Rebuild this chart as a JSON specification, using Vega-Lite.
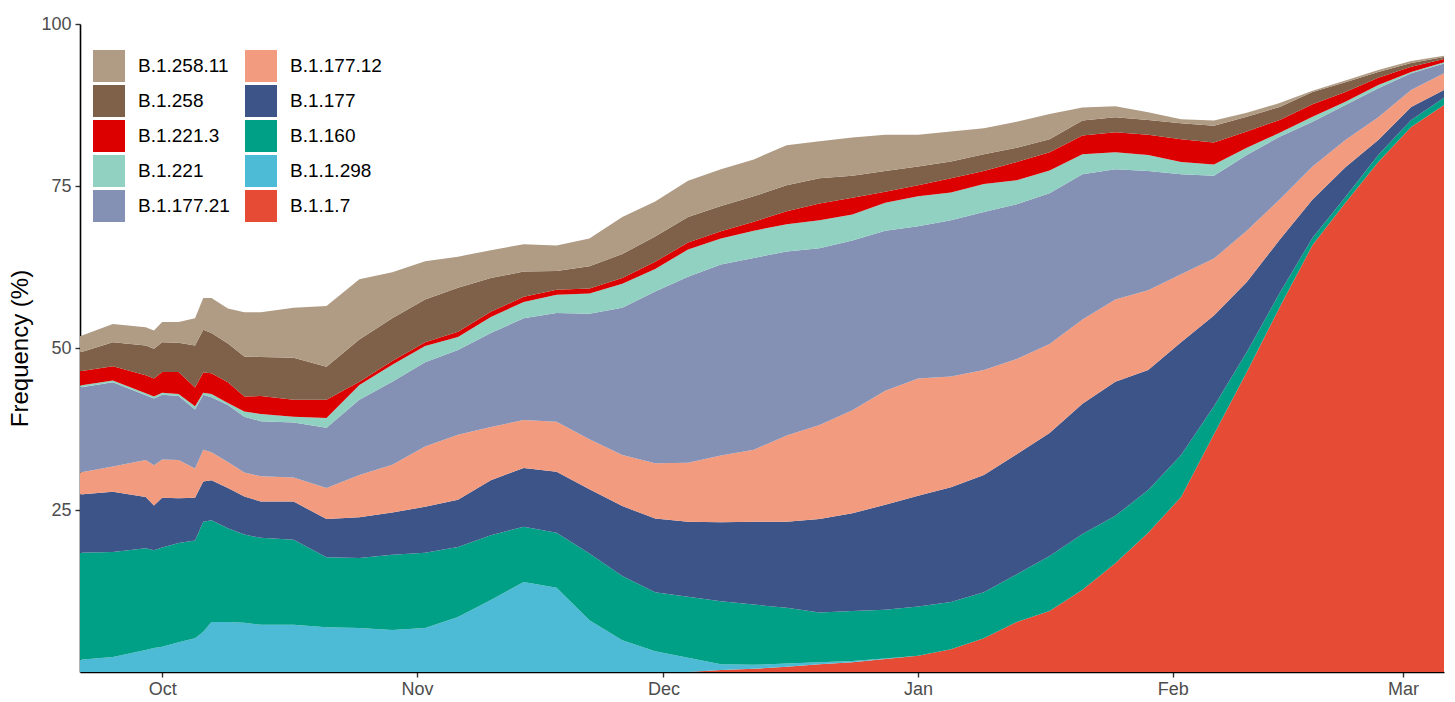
{
"$schema": "https://vega.github.io/schema/vega-lite/v6.json",
"width": 1364,
"height": 648,
"autosize": {"type": "none"},
"padding": {"left": 80, "top": 24, "right": 11, "bottom": 30},
"background": "white",
"config": {
  "view": {"stroke": null},
  "font": "Liberation Sans",
  "axis": {"grid": false, "domainColor": "#000000", "domainWidth": 1.6, "tickColor": "#333333", "tickWidth": 1.4, "tickSize": 5, "labelColor": "#4D4D4D", "labelFontSize": 18, "labelFont": "Liberation Sans", "titleFont": "Liberation Sans", "titleFontWeight": "normal", "titleColor": "#000000", "titleFontSize": 24}
},
"datasets": {
"freqs": [
{"date":"2020-09-21","lineage":"B.1.1.7","freq":0},{"date":"2020-09-21","lineage":"B.1.1.298","freq":1.9},{"date":"2020-09-21","lineage":"B.1.160","freq":16.5},{"date":"2020-09-21","lineage":"B.1.177","freq":9.0},{"date":"2020-09-21","lineage":"B.1.177.12","freq":3.4},{"date":"2020-09-21","lineage":"B.1.177.21","freq":13.1},{"date":"2020-09-21","lineage":"B.1.221","freq":0.3},{"date":"2020-09-21","lineage":"B.1.221.3","freq":2.2},{"date":"2020-09-21","lineage":"B.1.258","freq":2.9},{"date":"2020-09-21","lineage":"B.1.258.11","freq":2.5},
{"date":"2020-09-25","lineage":"B.1.1.7","freq":0},{"date":"2020-09-25","lineage":"B.1.1.298","freq":2.3},{"date":"2020-09-25","lineage":"B.1.160","freq":16.2},{"date":"2020-09-25","lineage":"B.1.177","freq":9.3},{"date":"2020-09-25","lineage":"B.1.177.12","freq":3.9},{"date":"2020-09-25","lineage":"B.1.177.21","freq":13.0},{"date":"2020-09-25","lineage":"B.1.221","freq":0.3},{"date":"2020-09-25","lineage":"B.1.221.3","freq":2.2},{"date":"2020-09-25","lineage":"B.1.258","freq":3.7},{"date":"2020-09-25","lineage":"B.1.258.11","freq":2.8},
{"date":"2020-09-29","lineage":"B.1.1.7","freq":0},{"date":"2020-09-29","lineage":"B.1.1.298","freq":3.4},{"date":"2020-09-29","lineage":"B.1.160","freq":15.7},{"date":"2020-09-29","lineage":"B.1.177","freq":7.9},{"date":"2020-09-29","lineage":"B.1.177.12","freq":5.7},{"date":"2020-09-29","lineage":"B.1.177.21","freq":10.0},{"date":"2020-09-29","lineage":"B.1.221","freq":0.3},{"date":"2020-09-29","lineage":"B.1.221.3","freq":2.8},{"date":"2020-09-29","lineage":"B.1.258","freq":4.6},{"date":"2020-09-29","lineage":"B.1.258.11","freq":2.8},
{"date":"2020-09-30","lineage":"B.1.1.7","freq":0},{"date":"2020-09-30","lineage":"B.1.1.298","freq":3.7},{"date":"2020-09-30","lineage":"B.1.160","freq":15.1},{"date":"2020-09-30","lineage":"B.1.177","freq":6.9},{"date":"2020-09-30","lineage":"B.1.177.12","freq":6.2},{"date":"2020-09-30","lineage":"B.1.177.21","freq":10.3},{"date":"2020-09-30","lineage":"B.1.221","freq":0.3},{"date":"2020-09-30","lineage":"B.1.221.3","freq":2.8},{"date":"2020-09-30","lineage":"B.1.258","freq":4.6},{"date":"2020-09-30","lineage":"B.1.258.11","freq":2.8},
{"date":"2020-10-01","lineage":"B.1.1.7","freq":0},{"date":"2020-10-01","lineage":"B.1.1.298","freq":3.9},{"date":"2020-10-01","lineage":"B.1.160","freq":15.3},{"date":"2020-10-01","lineage":"B.1.177","freq":7.7},{"date":"2020-10-01","lineage":"B.1.177.12","freq":5.9},{"date":"2020-10-01","lineage":"B.1.177.21","freq":10.0},{"date":"2020-10-01","lineage":"B.1.221","freq":0.3},{"date":"2020-10-01","lineage":"B.1.221.3","freq":3.2},{"date":"2020-10-01","lineage":"B.1.258","freq":4.6},{"date":"2020-10-01","lineage":"B.1.258.11","freq":3.1},
{"date":"2020-10-03","lineage":"B.1.1.7","freq":0},{"date":"2020-10-03","lineage":"B.1.1.298","freq":4.6},{"date":"2020-10-03","lineage":"B.1.160","freq":15.3},{"date":"2020-10-03","lineage":"B.1.177","freq":6.9},{"date":"2020-10-03","lineage":"B.1.177.12","freq":5.9},{"date":"2020-10-03","lineage":"B.1.177.21","freq":9.9},{"date":"2020-10-03","lineage":"B.1.221","freq":0.3},{"date":"2020-10-03","lineage":"B.1.221.3","freq":3.4},{"date":"2020-10-03","lineage":"B.1.258","freq":4.5},{"date":"2020-10-03","lineage":"B.1.258.11","freq":3.2},
{"date":"2020-10-05","lineage":"B.1.1.7","freq":0},{"date":"2020-10-05","lineage":"B.1.1.298","freq":5.2},{"date":"2020-10-05","lineage":"B.1.160","freq":15.1},{"date":"2020-10-05","lineage":"B.1.177","freq":6.6},{"date":"2020-10-05","lineage":"B.1.177.12","freq":4.5},{"date":"2020-10-05","lineage":"B.1.177.21","freq":9.1},{"date":"2020-10-05","lineage":"B.1.221","freq":0.5},{"date":"2020-10-05","lineage":"B.1.221.3","freq":2.9},{"date":"2020-10-05","lineage":"B.1.258","freq":6.5},{"date":"2020-10-05","lineage":"B.1.258.11","freq":4.2},
{"date":"2020-10-06","lineage":"B.1.1.7","freq":0},{"date":"2020-10-06","lineage":"B.1.1.298","freq":6.2},{"date":"2020-10-06","lineage":"B.1.160","freq":17.0},{"date":"2020-10-06","lineage":"B.1.177","freq":6.2},{"date":"2020-10-06","lineage":"B.1.177.12","freq":4.9},{"date":"2020-10-06","lineage":"B.1.177.21","freq":8.5},{"date":"2020-10-06","lineage":"B.1.221","freq":0.3},{"date":"2020-10-06","lineage":"B.1.221.3","freq":3.1},{"date":"2020-10-06","lineage":"B.1.258","freq":6.6},{"date":"2020-10-06","lineage":"B.1.258.11","freq":4.9},
{"date":"2020-10-07","lineage":"B.1.1.7","freq":0},{"date":"2020-10-07","lineage":"B.1.1.298","freq":7.7},{"date":"2020-10-07","lineage":"B.1.160","freq":15.7},{"date":"2020-10-07","lineage":"B.1.177","freq":6.2},{"date":"2020-10-07","lineage":"B.1.177.12","freq":4.3},{"date":"2020-10-07","lineage":"B.1.177.21","freq":8.5},{"date":"2020-10-07","lineage":"B.1.221","freq":0.5},{"date":"2020-10-07","lineage":"B.1.221.3","freq":3.2},{"date":"2020-10-07","lineage":"B.1.258","freq":6.2},{"date":"2020-10-07","lineage":"B.1.258.11","freq":5.4},
{"date":"2020-10-09","lineage":"B.1.1.7","freq":0},{"date":"2020-10-09","lineage":"B.1.1.298","freq":7.7},{"date":"2020-10-09","lineage":"B.1.160","freq":14.5},{"date":"2020-10-09","lineage":"B.1.177","freq":6.2},{"date":"2020-10-09","lineage":"B.1.177.12","freq":4.0},{"date":"2020-10-09","lineage":"B.1.177.21","freq":8.8},{"date":"2020-10-09","lineage":"B.1.221","freq":0.3},{"date":"2020-10-09","lineage":"B.1.221.3","freq":3.2},{"date":"2020-10-09","lineage":"B.1.258","freq":6.0},{"date":"2020-10-09","lineage":"B.1.258.11","freq":5.4},
{"date":"2020-10-11","lineage":"B.1.1.7","freq":0},{"date":"2020-10-11","lineage":"B.1.1.298","freq":7.6},{"date":"2020-10-11","lineage":"B.1.160","freq":13.6},{"date":"2020-10-11","lineage":"B.1.177","freq":5.9},{"date":"2020-10-11","lineage":"B.1.177.12","freq":3.7},{"date":"2020-10-11","lineage":"B.1.177.21","freq":8.6},{"date":"2020-10-11","lineage":"B.1.221","freq":0.8},{"date":"2020-10-11","lineage":"B.1.221.3","freq":2.3},{"date":"2020-10-11","lineage":"B.1.258","freq":6.2},{"date":"2020-10-11","lineage":"B.1.258.11","freq":6.8},
{"date":"2020-10-13","lineage":"B.1.1.7","freq":0},{"date":"2020-10-13","lineage":"B.1.1.298","freq":7.3},{"date":"2020-10-13","lineage":"B.1.160","freq":13.4},{"date":"2020-10-13","lineage":"B.1.177","freq":5.6},{"date":"2020-10-13","lineage":"B.1.177.12","freq":3.9},{"date":"2020-10-13","lineage":"B.1.177.21","freq":8.5},{"date":"2020-10-13","lineage":"B.1.221","freq":1.1},{"date":"2020-10-13","lineage":"B.1.221.3","freq":2.8},{"date":"2020-10-13","lineage":"B.1.258","freq":6.0},{"date":"2020-10-13","lineage":"B.1.258.11","freq":6.9},
{"date":"2020-10-17","lineage":"B.1.1.7","freq":0},{"date":"2020-10-17","lineage":"B.1.1.298","freq":7.3},{"date":"2020-10-17","lineage":"B.1.160","freq":13.1},{"date":"2020-10-17","lineage":"B.1.177","freq":5.9},{"date":"2020-10-17","lineage":"B.1.177.12","freq":3.7},{"date":"2020-10-17","lineage":"B.1.177.21","freq":8.5},{"date":"2020-10-17","lineage":"B.1.221","freq":0.9},{"date":"2020-10-17","lineage":"B.1.221.3","freq":2.6},{"date":"2020-10-17","lineage":"B.1.258","freq":6.5},{"date":"2020-10-17","lineage":"B.1.258.11","freq":7.7},
{"date":"2020-10-21","lineage":"B.1.1.7","freq":0},{"date":"2020-10-21","lineage":"B.1.1.298","freq":6.9},{"date":"2020-10-21","lineage":"B.1.160","freq":10.8},{"date":"2020-10-21","lineage":"B.1.177","freq":5.9},{"date":"2020-10-21","lineage":"B.1.177.12","freq":4.8},{"date":"2020-10-21","lineage":"B.1.177.21","freq":9.3},{"date":"2020-10-21","lineage":"B.1.221","freq":1.5},{"date":"2020-10-21","lineage":"B.1.221.3","freq":2.8},{"date":"2020-10-21","lineage":"B.1.258","freq":5.1},{"date":"2020-10-21","lineage":"B.1.258.11","freq":9.4},
{"date":"2020-10-25","lineage":"B.1.1.7","freq":0},{"date":"2020-10-25","lineage":"B.1.1.298","freq":6.8},{"date":"2020-10-25","lineage":"B.1.160","freq":10.8},{"date":"2020-10-25","lineage":"B.1.177","freq":6.3},{"date":"2020-10-25","lineage":"B.1.177.12","freq":6.5},{"date":"2020-10-25","lineage":"B.1.177.21","freq":11.6},{"date":"2020-10-25","lineage":"B.1.221","freq":2.3},{"date":"2020-10-25","lineage":"B.1.221.3","freq":0.5},{"date":"2020-10-25","lineage":"B.1.258","freq":6.5},{"date":"2020-10-25","lineage":"B.1.258.11","freq":9.3},
{"date":"2020-10-29","lineage":"B.1.1.7","freq":0},{"date":"2020-10-29","lineage":"B.1.1.298","freq":6.5},{"date":"2020-10-29","lineage":"B.1.160","freq":11.6},{"date":"2020-10-29","lineage":"B.1.177","freq":6.5},{"date":"2020-10-29","lineage":"B.1.177.12","freq":7.4},{"date":"2020-10-29","lineage":"B.1.177.21","freq":12.8},{"date":"2020-10-29","lineage":"B.1.221","freq":2.6},{"date":"2020-10-29","lineage":"B.1.221.3","freq":0.6},{"date":"2020-10-29","lineage":"B.1.258","freq":6.6},{"date":"2020-10-29","lineage":"B.1.258.11","freq":7.1},
{"date":"2020-11-02","lineage":"B.1.1.7","freq":0},{"date":"2020-11-02","lineage":"B.1.1.298","freq":6.8},{"date":"2020-11-02","lineage":"B.1.160","freq":11.6},{"date":"2020-11-02","lineage":"B.1.177","freq":7.1},{"date":"2020-11-02","lineage":"B.1.177.12","freq":9.3},{"date":"2020-11-02","lineage":"B.1.177.21","freq":13.0},{"date":"2020-11-02","lineage":"B.1.221","freq":2.5},{"date":"2020-11-02","lineage":"B.1.221.3","freq":0.6},{"date":"2020-11-02","lineage":"B.1.258","freq":6.6},{"date":"2020-11-02","lineage":"B.1.258.11","freq":5.9},
{"date":"2020-11-06","lineage":"B.1.1.7","freq":0},{"date":"2020-11-06","lineage":"B.1.1.298","freq":8.5},{"date":"2020-11-06","lineage":"B.1.160","freq":10.8},{"date":"2020-11-06","lineage":"B.1.177","freq":7.3},{"date":"2020-11-06","lineage":"B.1.177.12","freq":10.0},{"date":"2020-11-06","lineage":"B.1.177.21","freq":13.1},{"date":"2020-11-06","lineage":"B.1.221","freq":2.0},{"date":"2020-11-06","lineage":"B.1.221.3","freq":0.8},{"date":"2020-11-06","lineage":"B.1.258","freq":6.8},{"date":"2020-11-06","lineage":"B.1.258.11","freq":4.8},
{"date":"2020-11-10","lineage":"B.1.1.7","freq":0},{"date":"2020-11-10","lineage":"B.1.1.298","freq":11.1},{"date":"2020-11-10","lineage":"B.1.160","freq":10.0},{"date":"2020-11-10","lineage":"B.1.177","freq":8.5},{"date":"2020-11-10","lineage":"B.1.177.12","freq":8.2},{"date":"2020-11-10","lineage":"B.1.177.21","freq":14.5},{"date":"2020-11-10","lineage":"B.1.221","freq":2.5},{"date":"2020-11-10","lineage":"B.1.221.3","freq":0.8},{"date":"2020-11-10","lineage":"B.1.258","freq":5.2},{"date":"2020-11-10","lineage":"B.1.258.11","freq":4.3},
{"date":"2020-11-14","lineage":"B.1.1.7","freq":0},{"date":"2020-11-14","lineage":"B.1.1.298","freq":13.9},{"date":"2020-11-14","lineage":"B.1.160","freq":8.5},{"date":"2020-11-14","lineage":"B.1.177","freq":9.1},{"date":"2020-11-14","lineage":"B.1.177.12","freq":7.4},{"date":"2020-11-14","lineage":"B.1.177.21","freq":15.7},{"date":"2020-11-14","lineage":"B.1.221","freq":2.5},{"date":"2020-11-14","lineage":"B.1.221.3","freq":0.8},{"date":"2020-11-14","lineage":"B.1.258","freq":3.9},{"date":"2020-11-14","lineage":"B.1.258.11","freq":4.2},
{"date":"2020-11-18","lineage":"B.1.1.7","freq":0},{"date":"2020-11-18","lineage":"B.1.1.298","freq":13.0},{"date":"2020-11-18","lineage":"B.1.160","freq":8.5},{"date":"2020-11-18","lineage":"B.1.177","freq":9.4},{"date":"2020-11-18","lineage":"B.1.177.12","freq":7.7},{"date":"2020-11-18","lineage":"B.1.177.21","freq":16.8},{"date":"2020-11-18","lineage":"B.1.221","freq":2.8},{"date":"2020-11-18","lineage":"B.1.221.3","freq":0.8},{"date":"2020-11-18","lineage":"B.1.258","freq":2.9},{"date":"2020-11-18","lineage":"B.1.258.11","freq":3.9},
{"date":"2020-11-22","lineage":"B.1.1.7","freq":0},{"date":"2020-11-22","lineage":"B.1.1.298","freq":8.0},{"date":"2020-11-22","lineage":"B.1.160","freq":10.3},{"date":"2020-11-22","lineage":"B.1.177","freq":9.9},{"date":"2020-11-22","lineage":"B.1.177.12","freq":7.7},{"date":"2020-11-22","lineage":"B.1.177.21","freq":19.4},{"date":"2020-11-22","lineage":"B.1.221","freq":3.1},{"date":"2020-11-22","lineage":"B.1.221.3","freq":0.8},{"date":"2020-11-22","lineage":"B.1.258","freq":3.4},{"date":"2020-11-22","lineage":"B.1.258.11","freq":4.3},
{"date":"2020-11-26","lineage":"B.1.1.7","freq":0},{"date":"2020-11-26","lineage":"B.1.1.298","freq":4.9},{"date":"2020-11-26","lineage":"B.1.160","freq":9.9},{"date":"2020-11-26","lineage":"B.1.177","freq":10.8},{"date":"2020-11-26","lineage":"B.1.177.12","freq":7.9},{"date":"2020-11-26","lineage":"B.1.177.21","freq":22.7},{"date":"2020-11-26","lineage":"B.1.221","freq":3.7},{"date":"2020-11-26","lineage":"B.1.221.3","freq":0.9},{"date":"2020-11-26","lineage":"B.1.258","freq":3.7},{"date":"2020-11-26","lineage":"B.1.258.11","freq":5.7},
{"date":"2020-11-30","lineage":"B.1.1.7","freq":0},{"date":"2020-11-30","lineage":"B.1.1.298","freq":3.2},{"date":"2020-11-30","lineage":"B.1.160","freq":9.1},{"date":"2020-11-30","lineage":"B.1.177","freq":11.4},{"date":"2020-11-30","lineage":"B.1.177.12","freq":8.5},{"date":"2020-11-30","lineage":"B.1.177.21","freq":26.5},{"date":"2020-11-30","lineage":"B.1.221","freq":3.5},{"date":"2020-11-30","lineage":"B.1.221.3","freq":1.1},{"date":"2020-11-30","lineage":"B.1.258","freq":3.9},{"date":"2020-11-30","lineage":"B.1.258.11","freq":5.4},
{"date":"2020-12-04","lineage":"B.1.1.7","freq":0},{"date":"2020-12-04","lineage":"B.1.1.298","freq":2.2},{"date":"2020-12-04","lineage":"B.1.160","freq":9.4},{"date":"2020-12-04","lineage":"B.1.177","freq":11.6},{"date":"2020-12-04","lineage":"B.1.177.12","freq":9.1},{"date":"2020-12-04","lineage":"B.1.177.21","freq":28.7},{"date":"2020-12-04","lineage":"B.1.221","freq":4.2},{"date":"2020-12-04","lineage":"B.1.221.3","freq":1.1},{"date":"2020-12-04","lineage":"B.1.258","freq":3.9},{"date":"2020-12-04","lineage":"B.1.258.11","freq":5.6},
{"date":"2020-12-08","lineage":"B.1.1.7","freq":0.3},{"date":"2020-12-08","lineage":"B.1.1.298","freq":0.9},{"date":"2020-12-08","lineage":"B.1.160","freq":9.7},{"date":"2020-12-08","lineage":"B.1.177","freq":12.2},{"date":"2020-12-08","lineage":"B.1.177.12","freq":10.3},{"date":"2020-12-08","lineage":"B.1.177.21","freq":29.5},{"date":"2020-12-08","lineage":"B.1.221","freq":4.0},{"date":"2020-12-08","lineage":"B.1.221.3","freq":1.1},{"date":"2020-12-08","lineage":"B.1.258","freq":3.9},{"date":"2020-12-08","lineage":"B.1.258.11","freq":5.7},
{"date":"2020-12-12","lineage":"B.1.1.7","freq":0.5},{"date":"2020-12-12","lineage":"B.1.1.298","freq":0.6},{"date":"2020-12-12","lineage":"B.1.160","freq":9.3},{"date":"2020-12-12","lineage":"B.1.177","freq":12.8},{"date":"2020-12-12","lineage":"B.1.177.12","freq":11.1},{"date":"2020-12-12","lineage":"B.1.177.21","freq":29.6},{"date":"2020-12-12","lineage":"B.1.221","freq":4.2},{"date":"2020-12-12","lineage":"B.1.221.3","freq":1.4},{"date":"2020-12-12","lineage":"B.1.258","freq":3.9},{"date":"2020-12-12","lineage":"B.1.258.11","freq":5.7},
{"date":"2020-12-16","lineage":"B.1.1.7","freq":0.8},{"date":"2020-12-16","lineage":"B.1.1.298","freq":0.5},{"date":"2020-12-16","lineage":"B.1.160","freq":8.6},{"date":"2020-12-16","lineage":"B.1.177","freq":13.3},{"date":"2020-12-16","lineage":"B.1.177.12","freq":13.3},{"date":"2020-12-16","lineage":"B.1.177.21","freq":28.4},{"date":"2020-12-16","lineage":"B.1.221","freq":4.2},{"date":"2020-12-16","lineage":"B.1.221.3","freq":2.0},{"date":"2020-12-16","lineage":"B.1.258","freq":4.0},{"date":"2020-12-16","lineage":"B.1.258.11","freq":6.2},
{"date":"2020-12-20","lineage":"B.1.1.7","freq":1.2},{"date":"2020-12-20","lineage":"B.1.1.298","freq":0.3},{"date":"2020-12-20","lineage":"B.1.160","freq":7.7},{"date":"2020-12-20","lineage":"B.1.177","freq":14.4},{"date":"2020-12-20","lineage":"B.1.177.12","freq":14.5},{"date":"2020-12-20","lineage":"B.1.177.21","freq":27.3},{"date":"2020-12-20","lineage":"B.1.221","freq":4.3},{"date":"2020-12-20","lineage":"B.1.221.3","freq":2.6},{"date":"2020-12-20","lineage":"B.1.258","freq":3.9},{"date":"2020-12-20","lineage":"B.1.258.11","freq":5.7},
{"date":"2020-12-24","lineage":"B.1.1.7","freq":1.5},{"date":"2020-12-24","lineage":"B.1.1.298","freq":0.2},{"date":"2020-12-24","lineage":"B.1.160","freq":7.7},{"date":"2020-12-24","lineage":"B.1.177","freq":15.1},{"date":"2020-12-24","lineage":"B.1.177.12","freq":15.9},{"date":"2020-12-24","lineage":"B.1.177.21","freq":26.2},{"date":"2020-12-24","lineage":"B.1.221","freq":4.0},{"date":"2020-12-24","lineage":"B.1.221.3","freq":2.6},{"date":"2020-12-24","lineage":"B.1.258","freq":3.4},{"date":"2020-12-24","lineage":"B.1.258.11","freq":5.9},
{"date":"2020-12-28","lineage":"B.1.1.7","freq":2.0},{"date":"2020-12-28","lineage":"B.1.1.298","freq":0.1},{"date":"2020-12-28","lineage":"B.1.160","freq":7.5},{"date":"2020-12-28","lineage":"B.1.177","freq":16.2},{"date":"2020-12-28","lineage":"B.1.177.12","freq":17.6},{"date":"2020-12-28","lineage":"B.1.177.21","freq":24.7},{"date":"2020-12-28","lineage":"B.1.221","freq":4.3},{"date":"2020-12-28","lineage":"B.1.221.3","freq":1.7},{"date":"2020-12-28","lineage":"B.1.258","freq":3.2},{"date":"2020-12-28","lineage":"B.1.258.11","freq":5.6},
{"date":"2021-01-01","lineage":"B.1.1.7","freq":2.5},{"date":"2021-01-01","lineage":"B.1.1.298","freq":0},{"date":"2021-01-01","lineage":"B.1.160","freq":7.6},{"date":"2021-01-01","lineage":"B.1.177","freq":17.1},{"date":"2021-01-01","lineage":"B.1.177.12","freq":18.1},{"date":"2021-01-01","lineage":"B.1.177.21","freq":23.5},{"date":"2021-01-01","lineage":"B.1.221","freq":4.6},{"date":"2021-01-01","lineage":"B.1.221.3","freq":1.7},{"date":"2021-01-01","lineage":"B.1.258","freq":2.9},{"date":"2021-01-01","lineage":"B.1.258.11","freq":4.9},
{"date":"2021-01-05","lineage":"B.1.1.7","freq":3.5},{"date":"2021-01-05","lineage":"B.1.1.298","freq":0},{"date":"2021-01-05","lineage":"B.1.160","freq":7.3},{"date":"2021-01-05","lineage":"B.1.177","freq":17.7},{"date":"2021-01-05","lineage":"B.1.177.12","freq":17.1},{"date":"2021-01-05","lineage":"B.1.177.21","freq":24.1},{"date":"2021-01-05","lineage":"B.1.221","freq":4.3},{"date":"2021-01-05","lineage":"B.1.221.3","freq":2.2},{"date":"2021-01-05","lineage":"B.1.258","freq":2.6},{"date":"2021-01-05","lineage":"B.1.258.11","freq":4.6},
{"date":"2021-01-09","lineage":"B.1.1.7","freq":5.2},{"date":"2021-01-09","lineage":"B.1.1.298","freq":0},{"date":"2021-01-09","lineage":"B.1.160","freq":7.1},{"date":"2021-01-09","lineage":"B.1.177","freq":18.1},{"date":"2021-01-09","lineage":"B.1.177.12","freq":16.2},{"date":"2021-01-09","lineage":"B.1.177.21","freq":24.4},{"date":"2021-01-09","lineage":"B.1.221","freq":4.3},{"date":"2021-01-09","lineage":"B.1.221.3","freq":2.0},{"date":"2021-01-09","lineage":"B.1.258","freq":2.6},{"date":"2021-01-09","lineage":"B.1.258.11","freq":4.0},
{"date":"2021-01-13","lineage":"B.1.1.7","freq":7.7},{"date":"2021-01-13","lineage":"B.1.1.298","freq":0},{"date":"2021-01-13","lineage":"B.1.160","freq":7.4},{"date":"2021-01-13","lineage":"B.1.177","freq":18.5},{"date":"2021-01-13","lineage":"B.1.177.12","freq":14.7},{"date":"2021-01-13","lineage":"B.1.177.21","freq":23.9},{"date":"2021-01-13","lineage":"B.1.221","freq":3.7},{"date":"2021-01-13","lineage":"B.1.221.3","freq":2.8},{"date":"2021-01-13","lineage":"B.1.258","freq":2.2},{"date":"2021-01-13","lineage":"B.1.258.11","freq":4.0},
{"date":"2021-01-17","lineage":"B.1.1.7","freq":9.4},{"date":"2021-01-17","lineage":"B.1.1.298","freq":0},{"date":"2021-01-17","lineage":"B.1.160","freq":8.5},{"date":"2021-01-17","lineage":"B.1.177","freq":19.0},{"date":"2021-01-17","lineage":"B.1.177.12","freq":13.7},{"date":"2021-01-17","lineage":"B.1.177.21","freq":23.3},{"date":"2021-01-17","lineage":"B.1.221","freq":3.5},{"date":"2021-01-17","lineage":"B.1.221.3","freq":2.8},{"date":"2021-01-17","lineage":"B.1.258","freq":2.0},{"date":"2021-01-17","lineage":"B.1.258.11","freq":3.9},
{"date":"2021-01-21","lineage":"B.1.1.7","freq":12.7},{"date":"2021-01-21","lineage":"B.1.1.298","freq":0},{"date":"2021-01-21","lineage":"B.1.160","freq":8.6},{"date":"2021-01-21","lineage":"B.1.177","freq":20.1},{"date":"2021-01-21","lineage":"B.1.177.12","freq":13.0},{"date":"2021-01-21","lineage":"B.1.177.21","freq":22.4},{"date":"2021-01-21","lineage":"B.1.221","freq":3.1},{"date":"2021-01-21","lineage":"B.1.221.3","freq":2.9},{"date":"2021-01-21","lineage":"B.1.258","freq":2.3},{"date":"2021-01-21","lineage":"B.1.258.11","freq":2.0},
{"date":"2021-01-25","lineage":"B.1.1.7","freq":16.8},{"date":"2021-01-25","lineage":"B.1.1.298","freq":0},{"date":"2021-01-25","lineage":"B.1.160","freq":7.3},{"date":"2021-01-25","lineage":"B.1.177","freq":20.7},{"date":"2021-01-25","lineage":"B.1.177.12","freq":12.7},{"date":"2021-01-25","lineage":"B.1.177.21","freq":20.1},{"date":"2021-01-25","lineage":"B.1.221","freq":2.6},{"date":"2021-01-25","lineage":"B.1.221.3","freq":3.1},{"date":"2021-01-25","lineage":"B.1.258","freq":2.3},{"date":"2021-01-25","lineage":"B.1.258.11","freq":1.7},
{"date":"2021-01-29","lineage":"B.1.1.7","freq":21.5},{"date":"2021-01-29","lineage":"B.1.1.298","freq":0},{"date":"2021-01-29","lineage":"B.1.160","freq":6.6},{"date":"2021-01-29","lineage":"B.1.177","freq":18.5},{"date":"2021-01-29","lineage":"B.1.177.12","freq":12.3},{"date":"2021-01-29","lineage":"B.1.177.21","freq":18.4},{"date":"2021-01-29","lineage":"B.1.221","freq":2.5},{"date":"2021-01-29","lineage":"B.1.221.3","freq":3.1},{"date":"2021-01-29","lineage":"B.1.258","freq":2.3},{"date":"2021-01-29","lineage":"B.1.258.11","freq":1.2},
{"date":"2021-02-02","lineage":"B.1.1.7","freq":27.0},{"date":"2021-02-02","lineage":"B.1.1.298","freq":0},{"date":"2021-02-02","lineage":"B.1.160","freq":6.5},{"date":"2021-02-02","lineage":"B.1.177","freq":17.4},{"date":"2021-02-02","lineage":"B.1.177.12","freq":10.5},{"date":"2021-02-02","lineage":"B.1.177.21","freq":15.4},{"date":"2021-02-02","lineage":"B.1.221","freq":1.9},{"date":"2021-02-02","lineage":"B.1.221.3","freq":3.5},{"date":"2021-02-02","lineage":"B.1.258","freq":2.5},{"date":"2021-02-02","lineage":"B.1.258.11","freq":0.6},
{"date":"2021-02-06","lineage":"B.1.1.7","freq":36.7},{"date":"2021-02-06","lineage":"B.1.1.298","freq":0},{"date":"2021-02-06","lineage":"B.1.160","freq":4.3},{"date":"2021-02-06","lineage":"B.1.177","freq":14.0},{"date":"2021-02-06","lineage":"B.1.177.12","freq":8.8},{"date":"2021-02-06","lineage":"B.1.177.21","freq":12.8},{"date":"2021-02-06","lineage":"B.1.221","freq":1.7},{"date":"2021-02-06","lineage":"B.1.221.3","freq":3.4},{"date":"2021-02-06","lineage":"B.1.258","freq":2.6},{"date":"2021-02-06","lineage":"B.1.258.11","freq":0.8},
{"date":"2021-02-10","lineage":"B.1.1.7","freq":46.3},{"date":"2021-02-10","lineage":"B.1.1.298","freq":0},{"date":"2021-02-10","lineage":"B.1.160","freq":3.1},{"date":"2021-02-10","lineage":"B.1.177","freq":10.8},{"date":"2021-02-10","lineage":"B.1.177.12","freq":7.9},{"date":"2021-02-10","lineage":"B.1.177.21","freq":11.7},{"date":"2021-02-10","lineage":"B.1.221","freq":1.1},{"date":"2021-02-10","lineage":"B.1.221.3","freq":2.5},{"date":"2021-02-10","lineage":"B.1.258","freq":2.3},{"date":"2021-02-10","lineage":"B.1.258.11","freq":0.6},
{"date":"2021-02-14","lineage":"B.1.1.7","freq":56.3},{"date":"2021-02-14","lineage":"B.1.1.298","freq":0},{"date":"2021-02-14","lineage":"B.1.160","freq":2.2},{"date":"2021-02-14","lineage":"B.1.177","freq":8.2},{"date":"2021-02-14","lineage":"B.1.177.12","freq":6.2},{"date":"2021-02-14","lineage":"B.1.177.21","freq":9.7},{"date":"2021-02-14","lineage":"B.1.221","freq":0.6},{"date":"2021-02-14","lineage":"B.1.221.3","freq":2.0},{"date":"2021-02-14","lineage":"B.1.258","freq":2.0},{"date":"2021-02-14","lineage":"B.1.258.11","freq":0.6},
{"date":"2021-02-18","lineage":"B.1.1.7","freq":65.9},{"date":"2021-02-18","lineage":"B.1.1.298","freq":0},{"date":"2021-02-18","lineage":"B.1.160","freq":1.1},{"date":"2021-02-18","lineage":"B.1.177","freq":5.9},{"date":"2021-02-18","lineage":"B.1.177.12","freq":5.1},{"date":"2021-02-18","lineage":"B.1.177.21","freq":6.9},{"date":"2021-02-18","lineage":"B.1.221","freq":0.8},{"date":"2021-02-18","lineage":"B.1.221.3","freq":1.9},{"date":"2021-02-18","lineage":"B.1.258","freq":1.9},{"date":"2021-02-18","lineage":"B.1.258.11","freq":0.2},
{"date":"2021-02-22","lineage":"B.1.1.7","freq":72.4},{"date":"2021-02-22","lineage":"B.1.1.298","freq":0},{"date":"2021-02-22","lineage":"B.1.160","freq":0.9},{"date":"2021-02-22","lineage":"B.1.177","freq":4.6},{"date":"2021-02-22","lineage":"B.1.177.12","freq":4.2},{"date":"2021-02-22","lineage":"B.1.177.21","freq":5.4},{"date":"2021-02-22","lineage":"B.1.221","freq":0.5},{"date":"2021-02-22","lineage":"B.1.221.3","freq":1.5},{"date":"2021-02-22","lineage":"B.1.258","freq":1.5},{"date":"2021-02-22","lineage":"B.1.258.11","freq":0.3},
{"date":"2021-02-26","lineage":"B.1.1.7","freq":78.7},{"date":"2021-02-26","lineage":"B.1.1.298","freq":0},{"date":"2021-02-26","lineage":"B.1.160","freq":1.1},{"date":"2021-02-26","lineage":"B.1.177","freq":2.3},{"date":"2021-02-26","lineage":"B.1.177.12","freq":3.5},{"date":"2021-02-26","lineage":"B.1.177.21","freq":4.5},{"date":"2021-02-26","lineage":"B.1.221","freq":0.5},{"date":"2021-02-26","lineage":"B.1.221.3","freq":1.1},{"date":"2021-02-26","lineage":"B.1.258","freq":0.9},{"date":"2021-02-26","lineage":"B.1.258.11","freq":0.3},
{"date":"2021-03-02","lineage":"B.1.1.7","freq":84.1},{"date":"2021-03-02","lineage":"B.1.1.298","freq":0},{"date":"2021-03-02","lineage":"B.1.160","freq":1.1},{"date":"2021-03-02","lineage":"B.1.177","freq":2.0},{"date":"2021-03-02","lineage":"B.1.177.12","freq":2.6},{"date":"2021-03-02","lineage":"B.1.177.21","freq":2.6},{"date":"2021-03-02","lineage":"B.1.221","freq":0.2},{"date":"2021-03-02","lineage":"B.1.221.3","freq":0.8},{"date":"2021-03-02","lineage":"B.1.258","freq":0.6},{"date":"2021-03-02","lineage":"B.1.258.11","freq":0.3},
{"date":"2021-03-06","lineage":"B.1.1.7","freq":87.5},{"date":"2021-03-06","lineage":"B.1.1.298","freq":0},{"date":"2021-03-06","lineage":"B.1.160","freq":1.1},{"date":"2021-03-06","lineage":"B.1.177","freq":1.2},{"date":"2021-03-06","lineage":"B.1.177.12","freq":2.6},{"date":"2021-03-06","lineage":"B.1.177.21","freq":1.5},{"date":"2021-03-06","lineage":"B.1.221","freq":0.2},{"date":"2021-03-06","lineage":"B.1.221.3","freq":0.5},{"date":"2021-03-06","lineage":"B.1.258","freq":0.3},{"date":"2021-03-06","lineage":"B.1.258.11","freq":0.2}
]
},
"data": {"name": "freqs"},
"transform": [
  {"calculate": "indexof(['B.1.1.7','B.1.1.298','B.1.160','B.1.177','B.1.177.12','B.1.177.21','B.1.221','B.1.221.3','B.1.258','B.1.258.11'], datum.lineage)", "as": "stack_rank"}
],
"mark": {"type": "area", "interpolate": "linear", "opacity": 1},
"encoding": {
  "x": {
    "field": "date", "type": "temporal",
    "scale": {"type": "utc", "nice": false},
    "axis": {
      "title": null, "labelExpr": "utcFormat(datum.value, '%b')", "labelPadding": 3,
      "values": [
        {"year": 2020, "month": 10, "date": 1, "utc": true},
        {"year": 2020, "month": 11, "date": 1, "utc": true},
        {"year": 2020, "month": 12, "date": 1, "utc": true},
        {"year": 2021, "month": 1, "date": 1, "utc": true},
        {"year": 2021, "month": 2, "date": 1, "utc": true},
        {"year": 2021, "month": 3, "date": 1, "utc": true}
      ]
    }
  },
  "y": {
    "field": "freq", "type": "quantitative", "stack": "zero",
    "scale": {"domain": [0, 100], "nice": false},
    "axis": {"title": "Frequency (%)", "values": [25, 50, 75, 100], "labelPadding": 4, "titlePadding": 8}
  },
  "color": {
    "field": "lineage", "type": "nominal",
    "scale": {
      "domain": ["B.1.258.11", "B.1.258", "B.1.221.3", "B.1.221", "B.1.177.21", "B.1.177.12", "B.1.177", "B.1.160", "B.1.1.298", "B.1.1.7"],
      "range": ["#B09C85", "#7E6148", "#DC0000", "#91D1C2", "#8491B4", "#F39B7F", "#3C5488", "#00A087", "#4DBBD5", "#E64B35"]
    },
    "legend": {
      "title": null, "orient": "none", "legendX": 13, "legendY": 26, "columns": 2,
      "symbolType": "square", "symbolSize": 1024, "symbolStrokeWidth": 0, "symbolOpacity": 1,
      "labelFont": "Liberation Sans", "labelFontSize": 19, "labelColor": "#000000", "labelOffset": 13,
      "rowPadding": 3, "columnPadding": 15, "padding": 0
    }
  },
  "order": {"field": "stack_rank", "type": "quantitative", "sort": "ascending"}
}
}
